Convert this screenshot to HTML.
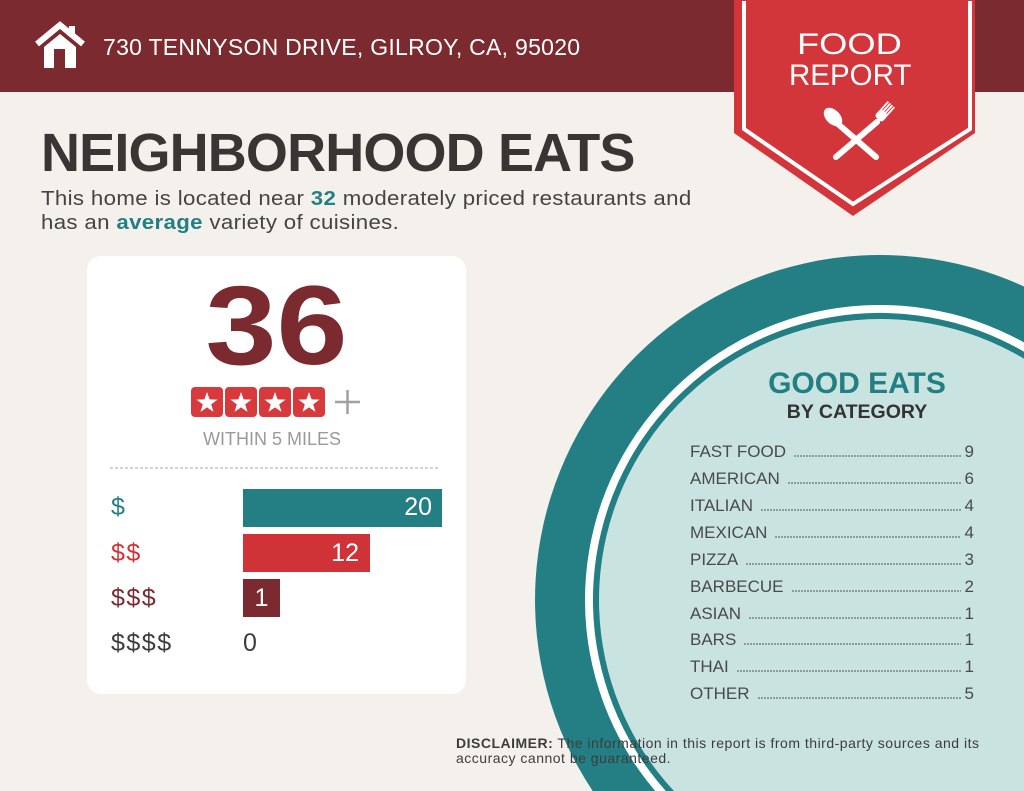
<!DOCTYPE html>
<html><head><meta charset="utf-8">
<style>
*{margin:0;padding:0;box-sizing:border-box}
html,body{width:1024px;height:791px;overflow:hidden}
body{background:#f4f1ed;font-family:"Liberation Sans",sans-serif}
#wrap{position:relative;width:1024px;height:791px;overflow:hidden;background:#f4f1ed}
.a{position:absolute;white-space:nowrap}
svg{display:block}
.hdr{position:absolute;left:0;top:0;width:1024px;height:92px;background:#7b2b2f}
.card{position:absolute;left:87px;top:256px;width:379px;height:438px;background:#fff;border-radius:14px}
.row{position:absolute;left:690px;width:284px;display:flex;align-items:baseline;font-size:17px;line-height:20px;color:#4a4a4a}
.row .l{flex:1;height:8px;margin:0 4px 0 8px;background-image:radial-gradient(circle at 1px 1px,#666 0.6px,transparent 1.1px);background-size:3px 2px;background-repeat:repeat-x;background-position:left bottom}
.bl{font-size:25px;line-height:25px}
</style></head><body>
<div id="wrap">
<div class="hdr"></div>
<svg class="a" style="left:0;top:0" width="1024" height="791" viewBox="0 0 1024 791">
  <!-- house -->
  <polyline points="37,44 60,25 83,44" fill="none" stroke="#fff" stroke-width="6" stroke-linejoin="miter"/>
  <rect x="69" y="26" width="6" height="11" fill="#fff"/>
  <polygon points="44,47 60,34 76,47 76,68 44,68" fill="#fff"/>
  <rect x="54" y="49" width="11" height="19" fill="#7b2b2f"/>
  <!-- badge -->
  <polygon points="734,0 975,0 975,133 853,216 734,133" fill="#d2363a"/>
  <polyline points="744,1 744,129 853,204 970,129 970,1" fill="none" stroke="#fff" stroke-width="4"/>
  <!-- utensils -->
  <line x1="838" y1="124" x2="876" y2="157" stroke="#fff" stroke-width="6" stroke-linecap="round"/>
  <ellipse cx="833" cy="117" rx="7" ry="11" transform="rotate(-45 833 117)" fill="#fff"/>
  <line x1="877" y1="122" x2="836" y2="157" stroke="#fff" stroke-width="6" stroke-linecap="round"/>
  <g transform="rotate(42 880 117)">
    <rect x="875" y="110" width="10" height="10" rx="3" fill="#fff"/>
    <rect x="875" y="100" width="1.8" height="12" fill="#fff"/>
    <rect x="877.7" y="100" width="1.8" height="12" fill="#fff"/>
    <rect x="880.4" y="100" width="1.8" height="12" fill="#fff"/>
    <rect x="883.1" y="100" width="1.8" height="12" fill="#fff"/>
  </g>
  <!-- circle (clipped to frame) -->
  <path d="M592.7 791 A345 345 0 0 1 1024 286.5 L1024 791 Z" fill="#237f84"/>
  <path d="M655.2 791 A295 295 0 0 1 1024 342.5 L1024 791 Z" fill="#fff"/>
  <path d="M665.8 791 A287 287 0 0 1 1024 351.7 L1024 791 Z" fill="#237f84"/>
  <path d="M673.9 791 A281 281 0 0 1 1024 358.7 L1024 791 Z" fill="#c9e3e0"/>
</svg>

<div class="a" style="left:103px;top:35.5px;font-size:23px;line-height:23px;color:#fff;letter-spacing:0.28px">730 TENNYSON DRIVE, GILROY, CA, 95020</div>
<div class="a" style="left:797px;top:30px;font-size:29.5px;line-height:30px;color:#fff;transform:scaleX(1.23);transform-origin:left">FOOD</div>
<div class="a" style="left:789px;top:61px;font-size:29.5px;line-height:30px;color:#fff">REPORT</div>

<div class="a" style="left:41px;top:126px;font-size:54px;line-height:54px;font-weight:bold;color:#3a3535;letter-spacing:-0.85px">NEIGHBORHOOD EATS</div>
<div class="a" style="left:41px;top:187px;font-size:20px;line-height:24px;color:#444;letter-spacing:0.3px;transform:scaleX(1.113);transform-origin:left">This home is located near <b style="color:#237f84">32</b> moderately priced restaurants and<br>has an <b style="color:#237f84">average</b> variety of cuisines.</div>

<div class="card"></div>
<div class="a" style="left:205px;top:270px;width:143px;text-align:center;font-size:112px;line-height:112px;font-weight:bold;color:#7b2b2f;transform:scaleX(1.14);transform-origin:center">36</div>
<svg class="a" style="left:0;top:0" width="470" height="470" viewBox="0 0 470 470">
  <g fill="#d63a3d">
    <rect x="191" y="387" width="32" height="30" rx="4"/>
    <rect x="225" y="387" width="32" height="30" rx="4"/>
    <rect x="259" y="387" width="32" height="30" rx="4"/>
    <rect x="293" y="387" width="32" height="30" rx="4"/>
  </g>
  <g fill="#fff">
    <polygon transform="translate(207 403)" points="0,-11 2.6,-3.6 10.5,-3.4 4.2,1.4 6.5,8.9 0,4.4 -6.5,8.9 -4.2,1.4 -10.5,-3.4 -2.6,-3.6"/>
    <polygon transform="translate(241 403)" points="0,-11 2.6,-3.6 10.5,-3.4 4.2,1.4 6.5,8.9 0,4.4 -6.5,8.9 -4.2,1.4 -10.5,-3.4 -2.6,-3.6"/>
    <polygon transform="translate(275 403)" points="0,-11 2.6,-3.6 10.5,-3.4 4.2,1.4 6.5,8.9 0,4.4 -6.5,8.9 -4.2,1.4 -10.5,-3.4 -2.6,-3.6"/>
    <polygon transform="translate(309 403)" points="0,-11 2.6,-3.6 10.5,-3.4 4.2,1.4 6.5,8.9 0,4.4 -6.5,8.9 -4.2,1.4 -10.5,-3.4 -2.6,-3.6"/>
  </g>
  <line x1="335" y1="402" x2="360" y2="402" stroke="#a0a0a0" stroke-width="2.5"/>
  <line x1="347.5" y1="390" x2="347.5" y2="414" stroke="#a0a0a0" stroke-width="2.5"/>
  <line x1="110" y1="468" x2="440" y2="468" stroke="#aaa" stroke-width="1" stroke-dasharray="3 2"/>
</svg>
<div class="a" style="left:203px;top:429px;font-size:18px;line-height:20px;color:#9a9a9a">WITHIN 5 MILES</div>

<div class="a" style="left:243px;top:489px;width:199px;height:38px;background:#237f84"></div>
<div class="a" style="left:243px;top:534px;width:127px;height:38px;background:#d03337"></div>
<div class="a" style="left:243px;top:579px;width:37px;height:38px;background:#7b2b2f"></div>

<div class="a bl" style="left:111px;top:495px;color:#237f84;letter-spacing:1.5px">$</div>
<div class="a bl" style="left:111px;top:540.5px;color:#d03337;letter-spacing:1.5px">$$</div>
<div class="a bl" style="left:111px;top:586px;color:#7b2b2f;letter-spacing:1.5px">$$$</div>
<div class="a bl" style="left:111px;top:631px;color:#3d3d3d;letter-spacing:1.5px">$$$$</div>

<div class="a bl" style="left:352px;top:495px;width:80px;text-align:right;color:#fff">20</div>
<div class="a bl" style="left:280px;top:540.5px;width:79px;text-align:right;color:#fff">12</div>
<div class="a bl" style="left:243px;top:586px;width:37px;text-align:center;color:#fff">1</div>
<div class="a bl" style="left:243px;top:631px;color:#3d3d3d">0</div>

<div class="a" style="left:707px;top:368px;width:300px;text-align:center;font-size:30px;line-height:32px;font-weight:bold;color:#237f84">GOOD EATS</div>
<div class="a" style="left:707px;top:401px;width:300px;text-align:center;font-size:19.5px;line-height:22px;font-weight:bold;color:#333">BY CATEGORY</div>

<div class="row" style="top:442.4px"><span>FAST FOOD</span><span class="l"></span><span>9</span></div>
<div class="row" style="top:469.25px"><span>AMERICAN</span><span class="l"></span><span>6</span></div>
<div class="row" style="top:496.1px"><span>ITALIAN</span><span class="l"></span><span>4</span></div>
<div class="row" style="top:522.95px"><span>MEXICAN</span><span class="l"></span><span>4</span></div>
<div class="row" style="top:549.8px"><span>PIZZA</span><span class="l"></span><span>3</span></div>
<div class="row" style="top:576.65px"><span>BARBECUE</span><span class="l"></span><span>2</span></div>
<div class="row" style="top:603.5px"><span>ASIAN</span><span class="l"></span><span>1</span></div>
<div class="row" style="top:630.35px"><span>BARS</span><span class="l"></span><span>1</span></div>
<div class="row" style="top:657.2px"><span>THAI</span><span class="l"></span><span>1</span></div>
<div class="row" style="top:684.05px"><span>OTHER</span><span class="l"></span><span>5</span></div>

<div class="a" style="left:456px;top:736px;font-size:14px;line-height:15px;color:#3d3d3d;letter-spacing:0.5px"><b>DISCLAIMER:</b> The information in this report is from third-party sources and its<br>accuracy cannot be guaranteed.</div>
</div>
</body></html>
